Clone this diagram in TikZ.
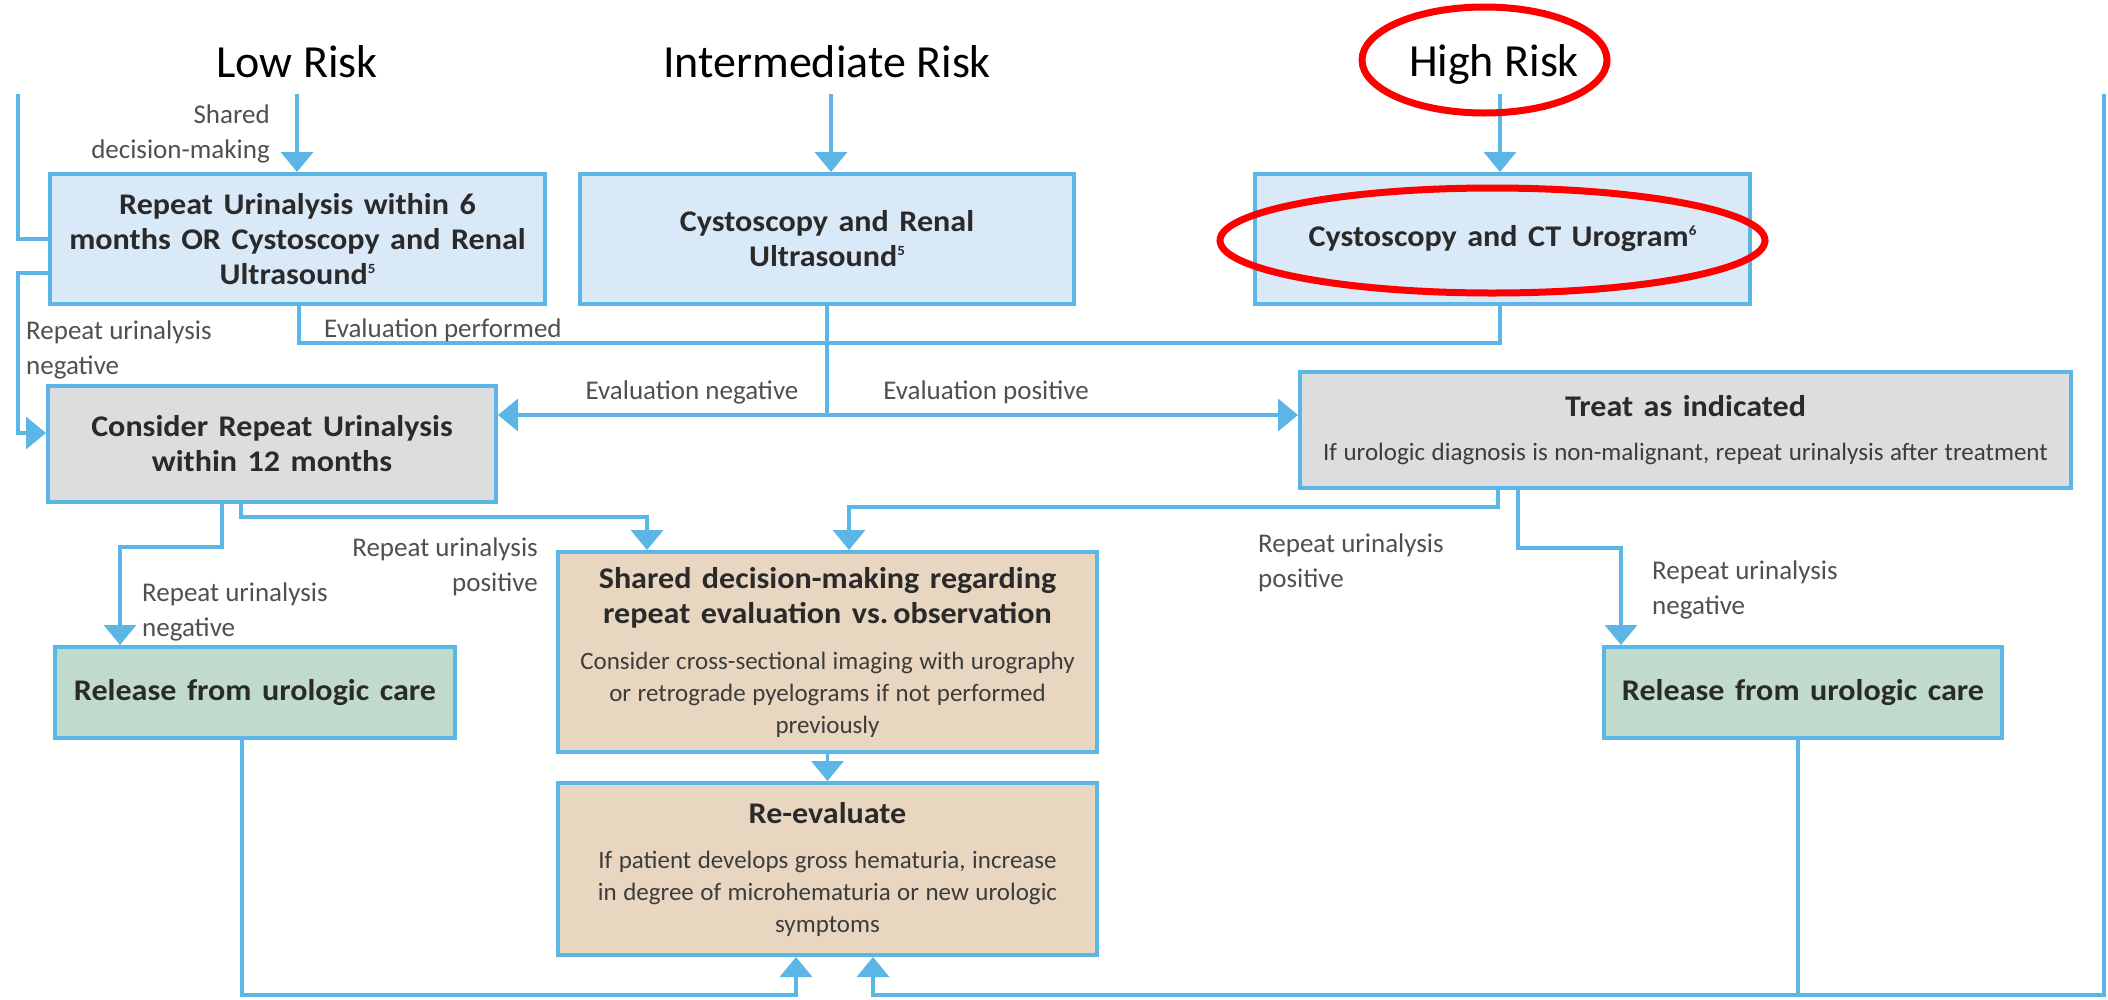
\documentclass[tikz,border=0pt]{standalone}
\usepackage{fontspec}
\setmainfont{Carlito}
\newfontfamily\hdf{Carlito}[FakeStretch=1.07]
\usetikzlibrary{arrows.meta,calc}

\definecolor{ln}{HTML}{5BB5E5}
\definecolor{bfill}{HTML}{DAE9F7}
\definecolor{gfill}{HTML}{DCDDDF}
\definecolor{grfill}{HTML}{C0DBCB}
\definecolor{tfill}{HTML}{E8D6C0}
\definecolor{hdc}{HTML}{2A2A2A}
\definecolor{bdc}{HTML}{3C3C3C}
\definecolor{lbc}{HTML}{505050}

\newcommand\hdtext{\hdf\bfseries\fontsize{30}{35}\selectfont\spaceskip=10.5pt\color{hdc}}
\newcommand\bodytext{\fontsize{25}{32}\selectfont\spaceskip=6.5pt\color{bdc}}
\newcommand\supn[1]{\raisebox{11pt}{\fontsize{14}{14}\selectfont #1}}

\tikzset{
  box/.style={draw=ln, line width=4pt, inner sep=0pt, align=center},
  bluebox/.style={box, fill=bfill},
  graybox/.style={box, fill=gfill},
  greenbox/.style={box, fill=grfill},
  tanbox/.style={box, fill=tfill},
  conn/.style={draw=ln, line width=3.5pt},
  arr/.style={conn, -{Triangle[width=32pt,length=20pt]}},
  lbl/.style={font=\fontsize{27}{35}\selectfont, text=lbc, inner sep=0pt},
  risk/.style={font=\fontsize{46}{50}\selectfont, text=black, inner sep=0pt},
  redring/.style={draw=red, line width=7pt}
}

\begin{document}
\begin{tikzpicture}[x=1pt,y=-1pt]
\fill[white] (0,0) rectangle (2108,999);
\useasboundingbox (0,0) rectangle (2108,999);

% risk headers
\node[risk] (low) at (297,62) {Low Risk};
\node[risk] (mid) at (827,62) {Intermediate Risk};
\node[risk] (high) at (1494,64) {High Risk};

% boxes
\node[bluebox, minimum width=495pt, minimum height=130pt, text width=490pt] (b1) at (297.5,239)
  {{\hdtext\mbox{Repeat Urinalysis within 6}\\\mbox{months OR Cystoscopy and Renal}\\\mbox{Ultrasound\supn{5}}\par}};
\node[bluebox, minimum width=494pt, minimum height=130pt, text width=490pt] (b2) at (827,239)
  {{\hdtext\mbox{Cystoscopy and Renal}\\\mbox{Ultrasound\supn{5}}\par}};
\node[bluebox, minimum width=495pt, minimum height=130pt, text width=490pt] (b3) at (1502.5,239)
  {{\hdtext\mbox{Cystoscopy and CT Urogram\supn{6}}\par}};

\node[graybox, minimum width=448pt, minimum height=116pt, text width=444pt] (cons) at (272,444)
  {{\hdtext\mbox{Consider Repeat Urinalysis}\\\mbox{within 12 months}\par}};
\node[graybox, minimum width=771pt, minimum height=116pt, text width=766pt] (treat) at (1685.5,430)
  {{\hdtext\mbox{Treat as indicated}\\[12pt]}{\bodytext\mbox{If urologic diagnosis is non-malignant, repeat urinalysis after treatment}\par}};

\node[tanbox, minimum width=539pt, minimum height=200pt, text width=535pt] (shared) at (827.5,652)
  {{\hdtext\mbox{Shared decision-making regarding}\\\mbox{repeat evaluation vs. observation}\\[14pt]}{\bodytext\mbox{Consider cross-sectional imaging with urography}\\\mbox{or retrograde pyelograms if not performed}\\\mbox{previously}\par}};
\node[tanbox, minimum width=539pt, minimum height=172pt, text width=535pt] (reeval) at (827.5,869)
  {{\hdtext\mbox{Re-evaluate}\\[13pt]}{\bodytext\mbox{If patient develops gross hematuria, increase}\\\mbox{in degree of microhematuria or new urologic}\\\mbox{symptoms}\par}};

\node[greenbox, minimum width=400pt, minimum height=91pt, text width=396pt] (rel1) at (255,692.5)
  {{\hdtext\mbox{Release from urologic care}\par}};
\node[greenbox, minimum width=398pt, minimum height=91pt, text width=394pt] (rel2) at (1803,692.5)
  {{\hdtext\mbox{Release from urologic care}\par}};

% helper coordinates
\coordinate (lt) at (18,94);
\coordinate (rt) at (2104,94);
\coordinate (t1) at (297,94);
\coordinate (t2) at (831,94);
\coordinate (t3) at (1500,94);
\coordinate (en) at (827,415);
\coordinate (ep) at (1500,343);
\coordinate (c1) at (120,547);
\coordinate (c2) at (647,517);
\coordinate (c3) at (849,507);
\coordinate (c4) at (1621,548);
\coordinate (c5) at (796,995);
\coordinate (c6) at (873,995);
\coordinate (c7) at (1798,995);

% connectors
\draw[arr] (t1) -- (t1 |- b1.north);
\draw[arr] (t2) -- (t2 |- b2.north);
\draw[arr] (t3) -- (t3 |- b3.north);

\draw[conn] (lt) |- (b1.west);
\draw[arr] ([yshift=-34pt]b1.west) -| (18,433) -- ([yshift=11pt]cons.west);

\draw[conn] ([xshift=1.5pt]b1.south) |- (ep) -- (t3 |- b3.south);
\draw[conn] (b2.south) -- (en);
\draw[arr] (en) -- (en -| cons.east);
\draw[arr] (en) -- (en -| treat.west);

\draw[arr] ([xshift=-50pt]cons.south) |- (c1) -- (c1 |- rel1.north);
\draw[arr] ([xshift=-31pt]cons.south) |- (c2) -- (c2 |- shared.north);

\draw[arr] ([xshift=-187.5pt]treat.south) |- (c3) -- (c3 |- shared.north);
\draw[arr] ([xshift=-167.5pt]treat.south) |- (c4) -- (c4 |- rel2.north);

\draw[arr] (shared.south) -- (reeval.north);

\draw[arr] ([xshift=-13pt]rel1.south) |- (c5) -- (c5 |- reeval.south);
\draw[arr] (rt) |- (c6) -- (c6 |- reeval.south);
\draw[conn] ([xshift=-5pt]rel2.south) -- (c7);

% labels
\node[lbl, align=right, anchor=east] (l1) at (270,134) {Shared\\decision-making};
\node[lbl, align=left, anchor=west] (l2) at (26,350) {Repeat urinalysis\\negative};
\node[lbl, anchor=west] (l3) at (324,330) {Evaluation performed};
\node[lbl] (l4) at (692,392) {Evaluation negative};
\node[lbl] (l5) at (986,392) {Evaluation positive};
\node[lbl, align=right, anchor=east] (l6) at (538,567) {Repeat urinalysis\\positive};
\node[lbl, align=left, anchor=west] (l7) at (142,612) {Repeat urinalysis\\negative};
\node[lbl, align=left, anchor=west] (l8) at (1258,563) {Repeat urinalysis\\positive};
\node[lbl, align=left, anchor=west] (l9) at (1652,590) {Repeat urinalysis\\negative};

% red highlight rings
\draw[redring] (1484.5,60) ellipse [x radius=122.5pt, y radius=53pt];
\draw[redring] (1492.5,240.5) ellipse [x radius=272.5pt, y radius=52.5pt];
\end{tikzpicture}
\end{document}
